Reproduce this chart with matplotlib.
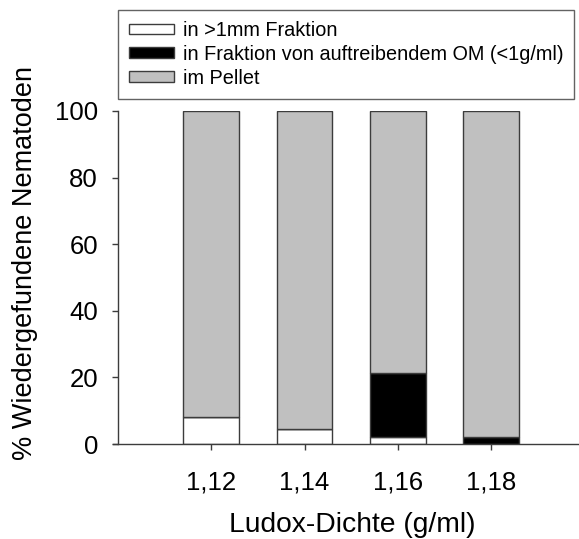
import numpy as np
import matplotlib.pyplot as plt

plt.rcParams["font.family"] = ["Liberation Sans", "DejaVu Sans"]

# data
dichte = ["1,12", "1,14", "1,16", "1,18"]
fraktion_1mm = [8.0, 4.4, 2.0, 0.0]
fraktion_om = [0.0, 0.0, 19.3, 2.0]
pellet = [100 - a - b for a, b in zip(fraktion_1mm, fraktion_om)]
labels = ["in >1mm Fraktion",
          "in Fraktion von auftreibendem OM (<1g/ml)",
          "im Pellet"]

edge = "#3c3c3c"
fig = plt.figure(figsize=(5.79, 5.39), dpi=100)
ax = fig.add_axes([113/579, 1 - 444/539, 1 - 113/579, 333/539])

x = np.arange(1, len(dichte) + 1)
w = 0.6
bottom = np.zeros(len(x))
for vals, col, lab in zip([fraktion_1mm, fraktion_om, pellet],
                          ["white", "black", "#c0c0c0"], labels):
    ax.bar(x, vals, w, bottom=bottom, color=col, edgecolor=edge,
           linewidth=1.0, label=lab)
    bottom += np.array(vals)

ax.set_xlim(-0.054, 4.944)
ax.set_ylim(0, 100)
ax.spines["left"].set_position(("data", 0))
ax.spines["top"].set_visible(False)
ax.spines["right"].set_visible(False)
for s in ["left", "bottom"]:
    ax.spines[s].set_color(edge)
    ax.spines[s].set_linewidth(1.0)

ax.set_xticks(x)
ax.set_xticklabels(dichte)
ax.set_yticks([0, 20, 40, 60, 80, 100])
ax.tick_params(direction="out", length=4, width=1, color=edge,
               labelsize=18.5)
ax.tick_params(axis="x", pad=15)
ax.tick_params(axis="y", pad=10.5)
ax.set_xlabel("Ludox-Dichte (g/ml)", fontsize=20.3)
ax.set_ylabel("% Wiedergefundene Nematoden", fontsize=19.5)
ax.xaxis.set_label_coords(0.513, -0.204)
ax.yaxis.set_label_coords(-0.161, 0.5435)

leg = fig.legend(loc="upper left", bbox_to_anchor=(118/579, 1 - 10/539),
                 fontsize=14.3, handlelength=2.26, handleheight=0.45,
                 frameon=True, fancybox=False, borderpad=0.55,
                 borderaxespad=0, labelspacing=0.25, handletextpad=0.45)
leg.get_frame().set_edgecolor(edge)
leg.get_frame().set_linewidth(1.0)

fig.savefig("out.png", dpi=100)
